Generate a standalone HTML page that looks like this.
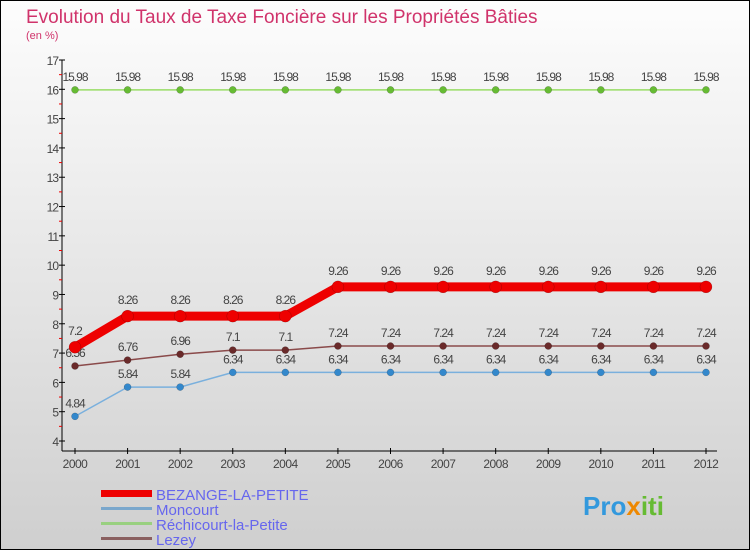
<!DOCTYPE html>
<html><head><meta charset="utf-8"><style>
html,body{margin:0;padding:0}
body{width:750px;height:550px;overflow:hidden;font-family:"Liberation Sans",sans-serif}
#wrap{position:relative;width:748px;height:548px;border:1px solid #000;background:linear-gradient(#fdfdfd,#cfcfcf)}
</style></head><body>
<div id="wrap">
<svg id="c" width="748" height="548" xmlns="http://www.w3.org/2000/svg" style="position:absolute;left:0;top:0">
<text x="25" y="22" font-size="19" fill="#d0336b">Evolution du Taux de Taxe Foncière sur les Propriétés Bâties</text>
<text x="25" y="38" font-size="11" fill="#d0336b">(en %)</text>
<g id="axes"></g><g id="series"></g>
<g>
<rect x="100" y="489" width="51" height="7" fill="#e00"/>
<text x="155" y="499" font-size="15" fill="#6666ee">BEZANGE-LA-PETITE</text>
<rect x="100" y="506" width="51" height="3" fill="#7aa7cc"/>
<text x="155" y="514" font-size="15" fill="#6666ee">Moncourt</text>
<rect x="100" y="521" width="51" height="3" fill="#99d080"/>
<text x="155" y="529" font-size="15" fill="#6666ee">Réchicourt-la-Petite</text>
<rect x="100" y="536" width="51" height="3" fill="#8a6060"/>
<text x="155" y="544" font-size="15" fill="#6666ee">Lezey</text>
</g>
<text x="582" y="514" font-size="26" font-weight="bold" fill="#3399dd">Pro<tspan fill="#ee8800">x</tspan><tspan fill="#66bb33">iti</tspan></text>
</svg></div>
<script>
const years=[2000,2001,2002,2003,2004,2005,2006,2007,2008,2009,2010,2011,2012];
const yTicks=[4,5,6,7,8,9,10,11,12,13,14,15,16,17];
const bezange=[7.2,8.26,8.26,8.26,8.26,9.26,9.26,9.26,9.26,9.26,9.26,9.26,9.26];
const moncourt=[4.84,5.84,5.84,6.34,6.34,6.34,6.34,6.34,6.34,6.34,6.34,6.34,6.34];
const rechicourt=[15.98,15.98,15.98,15.98,15.98,15.98,15.98,15.98,15.98,15.98,15.98,15.98,15.98];
const lezey=[6.56,6.76,6.96,7.1,7.1,7.24,7.24,7.24,7.24,7.24,7.24,7.24,7.24];
const NS="http://www.w3.org/2000/svg";
const X=i=>74+i*(705-74)/(years.length-1);
const Y=v=>440-(v-4)*(381/13);
function mk(p,t,a){const e=document.createElementNS(NS,t);for(const k in a)e.setAttribute(k,a[k]);p.appendChild(e);return e;}
const ax=document.getElementById('axes');
const yl=mk(ax,'line',{x1:61,y1:59,x2:61,y2:450,stroke:'#000','stroke-width':1});


const xl=mk(ax,'line',{x1:61,y1:450,x2:716,y2:450,stroke:'#000','stroke-width':1});


yTicks.forEach(v=>{
 mk(ax,'line',{x1:58,y1:Y(v),x2:64,y2:Y(v),stroke:'#000'});
 if(v<17) mk(ax,'line',{x1:58,y1:Y(v+0.5),x2:61,y2:Y(v+0.5),stroke:'#e00'});
 const t=mk(ax,'text',{x:57,y:Y(v)+5,'font-size':12,fill:'#444','text-anchor':'end','letter-spacing':'-1'});
 t.textContent=v;
 
 
});
years.forEach((y,i)=>{
 mk(ax,'line',{x1:X(i),y1:447,x2:X(i),y2:453,stroke:'#000'});
 const t=mk(ax,'text',{x:X(i),y:467,'font-size':12,fill:'#444','text-anchor':'middle','letter-spacing':'-0.5'});
 t.textContent=y;
 
 
});
const sg=document.getElementById('series');
function series(name,data,color,dot,lw,r,labelOff){
 const g=mk(sg,'g',{});
 
 
 const pl=mk(g,'polyline',{points:data.map((v,i)=>X(i)+','+Y(v)).join(' '),fill:'none',stroke:color,'stroke-width':lw});
 
 
 data.forEach((v,i)=>{
  const c=mk(g,'circle',{cx:X(i),cy:Y(v),r:r,fill:dot,stroke:'rgba(0,0,0,0.3)','stroke-width':0.5});
  
  
  const t=mk(g,'text',{x:X(i),y:Y(v)-labelOff,'font-size':12,fill:'#444','text-anchor':'middle','letter-spacing':'-1'});
  t.textContent=String(v);
  
  
 });
}
series('rechicourt',rechicourt,'#99dd66','#66bb33',1.5,3.5,9);
series('moncourt',moncourt,'#7ab0dd','#3388cc',1.5,3.5,9);
series('lezey',lezey,'#8a4a4a','#6a2a2a',1.5,3.5,9);
series('bezange',bezange,'#ee0000','#ee0000',9,6,12);
</script>
</body></html>
